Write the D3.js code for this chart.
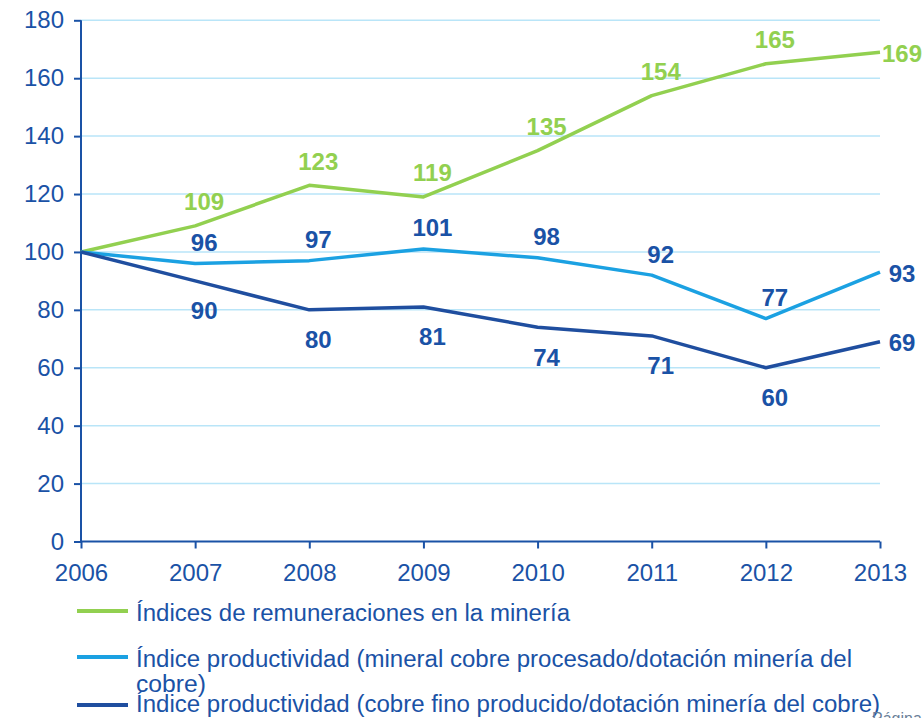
<!DOCTYPE html>
<html>
<head>
<meta charset="utf-8">
<script src="https://cdn.jsdelivr.net/npm/d3@7"></script>
<style>
  body { margin: 0; background: #fff; }
  svg { display: block; font-family: "Liberation Sans", Arial, sans-serif; }
</style>
</head>
<body>
<div id="chart"></div>
<script>
const years = [2006, 2007, 2008, 2009, 2010, 2011, 2012, 2013];
const remuneraciones = [100, 109, 123, 119, 135, 154, 165, 169];
const prodMineral = [100, 96, 97, 101, 98, 92, 77, 93];
const prodFino = [100, 90, 80, 81, 74, 71, 60, 69];
const yTicks = [0, 20, 40, 60, 80, 100, 120, 140, 160, 180];
const legendLabels = [
    "Índices de remuneraciones en la minería",
    "Índice productividad (mineral cobre procesado/dotación minería del",
    "Índice productividad (cobre fino producido/dotación minería del cobre)"
];

const width = 924, height = 718;
const axisColor = "#1a52a6", gridColor = "#b9e5f8";

const svg = d3.select("#chart")
    .append("svg")
    .attr("width", width)
    .attr("height", height);

const xScale = d3.scaleLinear()
    .domain([2006, 2013])
    .range([81, 880]);

const yScale = d3.scaleLinear()
    .domain([0, 180])
    .range([541.5, 20.3]);

// gridlines
svg.append("g")
    .selectAll("line")
    .data(yTicks.filter(d => d > 0))
    .enter()
    .append("line")
    .attr("x1", xScale(2006))
    .attr("x2", xScale(2013))
    .attr("y1", d => yScale(d))
    .attr("y2", d => yScale(d))
    .attr("stroke", gridColor)
    .attr("stroke-width", 1.5);

// Y axis
const yAxis = svg.append("g")
    .attr("transform", `translate(${xScale(2006)},0)`)
    .call(d3.axisLeft(yScale).tickValues(yTicks).tickSize(7).tickPadding(10));

// X axis
const xAxis = svg.append("g")
    .attr("transform", `translate(0,${yScale(0)})`)
    .call(d3.axisBottom(xScale).tickValues(years).tickFormat(d3.format("d")).tickSize(7).tickPadding(15));

[yAxis, xAxis].forEach(ax => {
    ax.select(".domain").attr("stroke", axisColor).attr("stroke-width", 2);
    ax.selectAll(".tick line").attr("stroke", axisColor).attr("stroke-width", 2);
    ax.selectAll(".tick text")
        .attr("fill", axisColor)
        .style("font-size", "24px")
        .style("font-family", "'Liberation Sans', Arial, sans-serif");
});
yAxis.select(".domain").attr("d", `M0,${yScale(180)}V${yScale(0)}`);
xAxis.select(".domain").attr("d", `M${xScale(2006)},0H${xScale(2013)}`);

const series = [
    { values: remuneraciones, color: "#92d050", labelColor: "#92d050", dy: -24 },
    { values: prodMineral, color: "#1ba1e2", labelColor: axisColor, dy: -21 },
    { values: prodFino, color: "#1f4e9f", labelColor: axisColor, dy: 30 }
];

const line = d3.line()
    .x((d, i) => xScale(years[i]))
    .y(d => yScale(d));

series.forEach(s => {
    svg.append("path")
        .datum(s.values)
        .attr("fill", "none")
        .attr("stroke", s.color)
        .attr("stroke-width", 3.5)
        .attr("stroke-linejoin", "round")
        .attr("d", line);

    // value labels (skip the 2006 base point)
    svg.append("g")
        .selectAll("text")
        .data(s.values.slice(1))
        .enter()
        .append("text")
        .attr("x", (d, i) => {
            const x = xScale(years[i + 1]);
            return i + 1 === years.length - 1 ? x + 22 : x + 9;
        })
        .attr("y", (d, i) => {
            const y = yScale(d);
            return i + 1 === years.length - 1 ? y + 1 : y + s.dy;
        })
        .attr("dy", "0.35em")
        .attr("text-anchor", "middle")
        .attr("fill", s.labelColor)
        .style("font-size", "24px")
        .style("font-weight", "bold")
        .text(d => d);
});

// Legend
const legendRows = [
    { label: legendLabels[0], color: "#92d050", lineY: 611, textY: 621, len: 434 },
    { label: legendLabels[1], color: "#1ba1e2", lineY: 657, textY: 667, len: 716 },
    { label: legendLabels[2], color: "#1f4e9f", lineY: 705, textY: 712, len: 744 }
];

legendRows.forEach(r => {
    svg.append("line")
        .attr("x1", 77).attr("x2", 128)
        .attr("y1", r.lineY).attr("y2", r.lineY)
        .attr("stroke", r.color)
        .attr("stroke-width", 4);
    svg.append("text")
        .attr("x", 136)
        .attr("y", r.textY)
        .attr("fill", axisColor)
        .attr("textLength", r.len)
        .attr("lengthAdjust", "spacingAndGlyphs")
        .style("font-size", "23px")
        .text(r.label);
});

svg.append("text")
    .attr("x", 136)
    .attr("y", 692)
    .attr("fill", axisColor)
    .attr("textLength", 70)
    .attr("lengthAdjust", "spacingAndGlyphs")
    .style("font-size", "23px")
    .text("cobre)");

svg.append("text")
    .attr("x", 872)
    .attr("y", 724)
    .attr("fill", "#6a7f99")
    .style("font-size", "16px")
    .text("Página");
</script>
</body>
</html>
